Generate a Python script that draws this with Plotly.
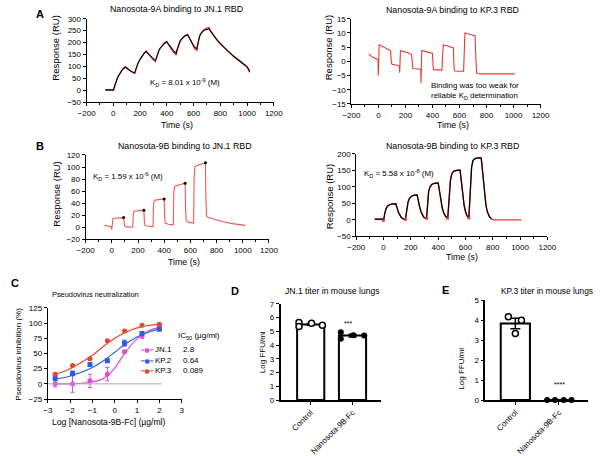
import plotly.graph_objects as go

W, H = 600, 456
FONT = "Liberation Sans, Arial, sans-serif"

# ---------------- DATA ----------------
# Panel A (left): Nanosota-9A binding to JN.1 RBD
a1_t = [-60, -5, 0, 5, 10, 20, 30, 40, 50, 60, 70, 80, 90,
        100, 110, 120, 130, 140, 150, 160,
        165, 170, 180, 190, 200, 210, 220, 230, 245,
        255, 265, 275, 285, 295, 305, 315,
        320, 330, 340, 350, 360, 370, 380, 390, 400,
        410, 420, 430, 440, 450, 460, 470,
        475, 485, 495, 505, 515, 525, 535, 545, 555,
        565, 575, 585, 595, 605, 615, 625,
        630, 637, 645, 655, 665, 675, 685, 695, 705, 715,
        725, 740, 760, 780, 800, 850, 900, 950, 1000, 1020]
a1_data = [1, 1, -3, 8, 18, 35, 50, 62, 72, 80, 88, 94, 99,
           94, 88, 83, 79, 76, 73, 70,
           80, 90, 106, 119, 130, 140, 148, 155, 165,
           157, 149, 142, 135, 129, 124, 120,
           131, 150, 165, 176, 185, 192, 198, 202, 205,
           194, 183, 174, 166, 159, 152, 147,
           160, 182, 198, 210, 218, 224, 229, 232, 235,
           223, 210, 197, 186, 177, 170, 165,
           185, 208, 227, 240, 248, 253, 257, 260, 262, 264,
           252, 238, 223, 209, 196, 168, 144, 122, 100, 82]
a1_fit = [1, 1, 0, 9, 19, 35, 50, 62, 72, 80, 87, 92, 96,
          92, 87, 83, 80, 77, 74, 72,
          82, 92, 107, 120, 130, 139, 147, 154, 162,
          156, 149, 143, 137, 132, 128, 124,
          134, 151, 165, 176, 184, 190, 195, 199, 202,
          194, 186, 179, 172, 166, 160, 155,
          168, 187, 201, 211, 218, 223, 227, 230, 232,
          222, 211, 200, 191, 183, 177, 175,
          190, 210, 226, 237, 245, 250, 253, 255, 257, 258,
          249, 236, 221, 207, 194, 166, 141, 119, 97, 75]

# Panel A (right): Nanosota-9A binding to KP.3 RBD
a2_t = [-70, -45, -20, -3, -1, 1, 5, 15, 40, 70,
        90, 95, 100, 130, 155, 157, 159, 163, 180, 220,
        245, 250, 255, 300, 313, 315, 317, 321, 340, 370,
        400, 405, 410, 440, 470, 473, 480, 500, 530, 555,
        560, 565, 600, 630, 633, 640, 660, 690, 715, 722,
        728, 760, 1010]
a2_data = [2.5, 1.5, 1.0, 0.5, -5, -2, 5.8, 5.6, 5.0, 4.3,
           3.8, 0, -1, -1.3, -1.6, -4, -1, 3.8, 3.5, 3.0,
           2.4, -1.5, -2.5, -2.7, -2.8, -7.6, -3, 3.8, 3.6, 3.2,
           2.8, -2, -3, -3, -3.1, 0, 5.8, 5.6, 5.2, 4.7,
           -2.5, -3.4, -3.5, -3.5, 0, 10, 9.7, 9.3, 9, 0,
           -4.3, -4.4, -4.4]

# Panel B (left): Nanosota-9B binding to JN.1 RBD
b1_t = [-55, -5, 0, 3, 8, 15, 50, 90, 93, 97,
        110, 160, 163, 168, 175, 210, 245, 248, 253, 270,
        315, 318, 323, 330, 370, 400, 403, 408, 430, 470,
        473, 478, 490, 530, 560, 563, 568, 590, 625, 628,
        633, 645, 680, 715, 718, 723, 740, 780, 850, 920,
        1020]
b1_data = [3, 1, -4, 0, 14, 15, 15, 16, 10, 2,
           0.5, 0, 20, 26, 27, 27, 28, 12, 3, 2,
           1, 35, 44, 45, 46, 47, 20, 7, 5, 4,
           55, 67, 69, 71, 73, 30, 11, 8, 7, 80,
           100, 102, 104, 107, 50, 18, 16, 13, 9, 6,
           3]
b1_end_t = [90, 245, 400, 560, 715]
b1_end_v = [16, 28, 47, 73, 107]

# Panel B (right): Nanosota-9B binding to KP.3 RBD
b2_t = [-65, -5, 0, 5, 10, 20, 30, 45, 60, 90,
        95, 100, 110, 120, 130, 145, 160, 163, 170, 180,
        190, 205, 225, 245, 250, 255, 265, 275, 285, 295,
        315, 318, 322, 330, 340, 355, 375, 400, 405, 410,
        420, 430, 440, 455, 470, 475, 480, 490, 500, 515,
        535, 560, 565, 570, 580, 590, 600, 612, 625, 630,
        635, 645, 655, 670, 690, 715, 720, 730, 740, 750,
        760, 775, 790, 810, 1010]
b2_data = [2, 2, -2, 12, 22, 35, 42, 46, 48, 49,
           44, 35, 22, 13, 7, 3, 1, 10, 35, 55,
           65, 72, 75, 76, 68, 56, 38, 24, 14, 8,
           4, 20, 50, 85, 100, 108, 111, 112, 100, 85,
           57, 36, 22, 10, 5, 30, 70, 120, 140, 148,
           150, 151, 135, 115, 75, 45, 25, 12, 6, 50,
           100, 160, 180, 186, 188, 188, 170, 120, 75, 45,
           25, 10, 3, 0, 0]
b2_start_t = [0, 160, 315, 470, 625]
b2_start_v = [-2, 1, 4, 5, 6]

# Panel C: pseudovirus neutralization
c_logconc = [-2.67, -1.89, -1.11, -0.33, 0.44, 1.22, 2.0]
c_jn1 = [0, 0, 5, 16, 53, 78, 94]
c_jn1_err = [5, 14, 11, 11, 2, 2, 2]
c_kp2 = [9.5, 17, 32, 38, 67, 83, 90]
c_kp2_err = [4, 4, 3, 3, 5, 2, 1]
c_kp3 = [16, 30, 41.5, 71, 87, 96.5, 98]
c_kp3_err = [1.5, 1.5, 1.5, 1.5, 1.5, 1.5, 1.5]
c_fit_x = [-2.67, -2.3, -2.0, -1.5, -1.0, -0.5, 0.0, 0.5, 1.0, 1.5, 2.0]
c_jn1_fit = [0, 0, 0, 1, 3, 9, 26, 53, 74, 87, 93]
c_kp2_fit = [8, 10, 13, 19, 27, 38, 52, 66, 77, 85, 90]
c_kp3_fit = [16, 20, 25, 35, 47, 62, 75, 85, 92, 96, 98]
c_names = ["JN.1", "KP.2", "KP.3"]
c_ic50 = ["2.8", "0.64", "0.089"]

# Panel D: JN.1 titer in mouse lungs
bar_cats = ["Control", "Nanosota-9B-Fc"]
d_means = [5.51, 4.70]
d_sem = [0.07, 0.10]
d_ctrl_pts = [5.65, 5.35, 5.60, 5.45]
d_nano_pts = [4.93, 4.46, 4.72, 4.70]

# Panel E: KP.3 titer in mouse lungs
e_means = [3.83, 0.0]
e_sem = [0.26, 0.0]
e_ctrl_pts = [4.17, 3.33, 3.99]
e_nano_pts = [0, 0, 0, 0]

# ---------------- STYLE ----------------
RED = "#e63b34"
BLACK = "#000000"
C_COL = ["#e048e0", "#2c5fd8", "#e8462e"]


def xd(a, b):
    return [a / W, b / W]


def yd(top, bottom):
    return [1 - bottom / H, 1 - top / H]


def ax_common(**kw):
    d = dict(showline=True, linecolor="black", linewidth=1, showgrid=False,
             zeroline=False, ticks="outside", ticklen=3, tickwidth=1,
             tickcolor="black", tickfont=dict(size=8, color="black", family=FONT))
    d.update(kw)
    return d


fig = go.Figure()

# Panel 1: A left
fig.add_trace(go.Scatter(x=a1_t, y=a1_data, mode="lines", line=dict(color=RED, width=1.2),
                         xaxis="x", yaxis="y"))
fig.add_trace(go.Scatter(x=a1_t, y=a1_fit, mode="lines", line=dict(color=BLACK, width=1.1),
                         xaxis="x", yaxis="y"))
# Panel 2: A right
fig.add_trace(go.Scatter(x=a2_t, y=a2_data, mode="lines", line=dict(color=RED, width=1.1),
                         xaxis="x2", yaxis="y2"))
# Panel 3: B left
fig.add_trace(go.Scatter(x=b1_t, y=b1_data, mode="lines", line=dict(color="#ea5a52", width=1.1),
                         xaxis="x3", yaxis="y3"))
fig.add_trace(go.Scatter(x=b1_end_t, y=b1_end_v, mode="markers",
                         marker=dict(color=BLACK, size=3), xaxis="x3", yaxis="y3"))
# Panel 4: B right
fig.add_trace(go.Scatter(x=b2_t, y=b2_data, mode="lines", line=dict(color=RED, width=1.4),
                         xaxis="x4", yaxis="y4"))
fig.add_trace(go.Scatter(x=b2_t[:73], y=b2_data[:73], mode="lines",
                         line=dict(color=BLACK, width=1.2), xaxis="x4", yaxis="y4"))
fig.add_trace(go.Scatter(x=b2_start_t, y=b2_start_v, mode="markers",
                         marker=dict(color=RED, size=3), xaxis="x4", yaxis="y4"))

# Panel 5: C
for fit, col in zip([c_jn1_fit, c_kp2_fit, c_kp3_fit], C_COL):
    fig.add_trace(go.Scatter(x=c_fit_x, y=fit, mode="lines", line=dict(color=col, width=1.2, shape="spline"),
                             xaxis="x5", yaxis="y5"))
for vals, errs, col in zip([c_jn1, c_kp2, c_kp3], [c_jn1_err, c_kp2_err, c_kp3_err], C_COL):
    fig.add_trace(go.Scatter(x=c_logconc, y=vals, mode="markers",
                             marker=dict(color=col, size=5, symbol="circle" if col != C_COL[1] else "square"),
                             error_y=dict(type="data", array=errs, color=col, thickness=1, width=2),
                             xaxis="x5", yaxis="y5"))

# Panel 6: D
fig.add_trace(go.Bar(x=[0, 1], y=d_means, width=0.65,
                     marker=dict(color="white", line=dict(color="black", width=2)),
                     error_y=dict(type="data", array=d_sem, color="black", thickness=1.5, width=4),
                     xaxis="x6", yaxis="y6"))
off4 = [-0.28, -0.28, 0.02, 0.28]
fig.add_trace(go.Scatter(x=[0 + o for o in off4], y=d_ctrl_pts, mode="markers",
                         marker=dict(color="white", size=6, line=dict(color="black", width=1.5)),
                         xaxis="x6", yaxis="y6"))
fig.add_trace(go.Scatter(x=[1 + o for o in off4], y=d_nano_pts, mode="markers",
                         marker=dict(color="black", size=6), xaxis="x6", yaxis="y6"))

# Panel 7: E
fig.add_trace(go.Bar(x=[0, 1], y=e_means, width=0.67,
                     marker=dict(color="white", line=dict(color="black", width=2)),
                     error_y=dict(type="data", array=e_sem, color="black", thickness=1.5, width=5),
                     xaxis="x7", yaxis="y7"))
off3 = [-0.16, 0.0, 0.14]
fig.add_trace(go.Scatter(x=[0 + o for o in off3], y=e_ctrl_pts, mode="markers",
                         marker=dict(color="white", size=6, line=dict(color="black", width=1.5)),
                         xaxis="x7", yaxis="y7"))
offE = [-0.27, -0.09, 0.11, 0.29]
fig.add_trace(go.Scatter(x=[1 + o for o in offE], y=e_nano_pts, mode="markers",
                         marker=dict(color="black", size=6), xaxis="x7", yaxis="y7", cliponaxis=False))

time_minor = dict(dtick=100, ticklen=2, tickcolor="black", ticks="outside")

fig.update_layout(
    width=W, height=H, margin=dict(l=0, r=0, t=0, b=0),
    paper_bgcolor="white", plot_bgcolor="white", showlegend=False,
    font=dict(family=FONT, size=8, color="black"),
    xaxis=ax_common(domain=xd(80, 273), range=[-200, 1200], dtick=200, anchor="y", minor=time_minor),
    yaxis=ax_common(domain=yd(15, 100), range=[-50, 300], dtick=50, anchor="x"),
    xaxis2=ax_common(domain=xd(353, 548), range=[-200, 1200], dtick=200, anchor="y2", minor=time_minor),
    yaxis2=ax_common(domain=yd(15, 102), range=[-15, 15], dtick=5, anchor="x2"),
    xaxis3=ax_common(domain=xd(79, 268), range=[-200, 1200], dtick=200, anchor="y3", minor=time_minor),
    yaxis3=ax_common(domain=yd(154, 240), range=[-20, 120], dtick=20, anchor="x3"),
    xaxis4=ax_common(domain=xd(358, 555), range=[-200, 1200], dtick=200, anchor="y4", minor=time_minor),
    yaxis4=ax_common(domain=yd(153, 237), range=[-50, 200], dtick=50, anchor="x4"),
    xaxis5=ax_common(domain=xd(40, 178), range=[-3, 3], dtick=1, anchor="y5"),
    yaxis5=ax_common(domain=yd(310, 403), range=[-25, 125], dtick=25, anchor="x5"),
    xaxis6=ax_common(domain=xd(280, 383), range=[-0.72, 1.67], tickvals=[0, 1], ticktext=bar_cats,
                     tickangle=-45, anchor="y6", linewidth=1.5),
    yaxis6=ax_common(domain=yd(306, 404), range=[0, 7], dtick=1, anchor="x6", linewidth=1.5),
    xaxis7=ax_common(domain=xd(491, 597), range=[-0.69, 1.67], tickvals=[0, 1], ticktext=bar_cats,
                     tickangle=-45, anchor="y7", linewidth=1.5),
    yaxis7=ax_common(domain=yd(302, 404), range=[0, 5], dtick=1, anchor="x7", linewidth=1.5),
)

# zero reference line in panel C
fig.add_shape(type="line", xref="x5", yref="y5", x0=-3, x1=2.1, y0=0, y1=0,
              line=dict(color="#aaaaaa", width=1))


def ann(text, x, y, size=8, angle=0, bold=False, xanchor="center", color="black", family=FONT):
    if bold:
        text = "<b>" + text + "</b>"
    fig.add_annotation(text=text, x=x / W, y=1 - y / H, xref="paper", yref="paper",
                       showarrow=False, textangle=angle, xanchor=xanchor, yanchor="middle",
                       font=dict(size=size, color=color, family=family))


# Panel letters
ann("A", 32, 10, size=11, bold=True)
ann("B", 32, 145, size=11, bold=True)
ann("C", 6, 285, size=11, bold=True)
ann("D", 233, 293, size=11, bold=True)
ann("E", 450, 292, size=11, bold=True)

# Titles
ann("Nanosota-9A binding to JN.1 RBD", 173, 5, size=8.8)
ann("Nanosota-9A binding to KP.3 RBD", 457, 6, size=8.8)
ann("Nanosota-9B binding to JN.1 RBD", 181, 145, size=8.8)
ann("Nanosota-9B binding to KP.3 RBD", 457, 145, size=8.8)
ann("Pseudovirus neutralization", 89, 296, size=7.4)
ann("JN.1 titer in mouse lungs", 333, 293, size=8.6)
ann("KP.3 titer in mouse lungs", 555, 293, size=8.4)

# Axis titles
ann("Response (RU)", 48, 45, size=9.5, angle=-90)
ann("Response (RU)", 329, 45, size=9.5, angle=-90)
ann("Response (RU)", 49, 194, size=9.5, angle=-90)
ann("Response (RU)", 330, 197, size=9.5, angle=-90)
ann("Time (s)", 173, 123, size=8.8)
ann("Time (s)", 458, 123, size=8.8)
ann("Time (s)", 180, 263, size=8.8)
ann("Time (s)", 467, 258, size=8.8)
ann("Pseudovirus inhibition (%)", 10, 357, size=8, angle=-90)
ann("Log [Nanosota-9B-Fc] (µg/ml)", 103, 426, size=8.6)
ann("Log FFU/ml", 262, 355, size=8, angle=-90)
ann("Log FFU/ml", 467, 372, size=8, angle=-90)

# KD texts
ann("K<sub>D</sub> = 8.01 x 10<sup>-9</sup> (M)", 181, 80, size=7.9)
ann("Binding was too weak for", 480, 83, size=7.9)
ann("reliable K<sub>D</sub> determination", 480, 94, size=7.9)
ann("K<sub>D</sub> = 1.59 x 10<sup>-6</sup> (M)", 123, 176, size=7.9)
ann("K<sub>D</sub> = 5.58 x 10<sup>-8</sup> (M)", 402, 173, size=7.9)

# Panel C legend
ann("IC<sub>50</sub> (µg/ml)", 172, 339, size=8, xanchor="left")
for i, (nm, ic, col) in enumerate(zip(c_names, c_ic50, C_COL)):
    yy = 352.5 + i * 10.7
    ann("━●━", 142, yy, size=6, color=col, family="DejaVu Sans")
    ann(nm, 148, yy, size=8, xanchor="left")
    ann(ic, 177, yy, size=8, xanchor="left")

# Significance stars
ann("***", 349, 326, size=7)
ann("****", 568, 388, size=7)

fig.write_html("out.html")
